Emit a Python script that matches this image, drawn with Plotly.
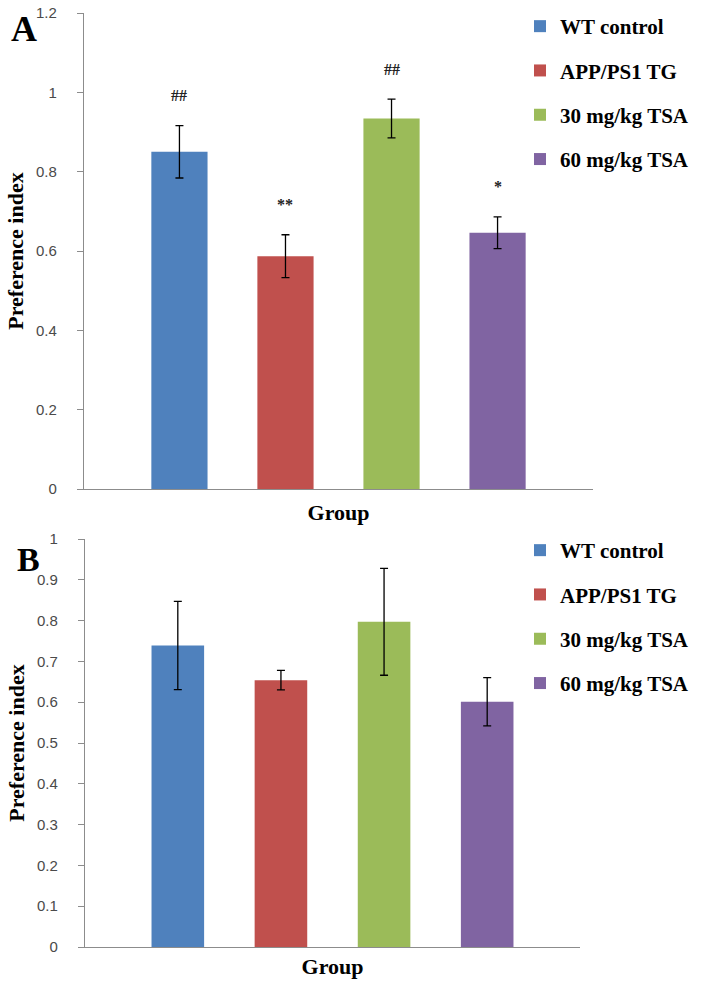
import plotly.graph_objects as go

groups = ["WT control", "APP/PS1 TG", "30 mg/kg TSA", "60 mg/kg TSA"]
colors = ["#4F81BD", "#C0504D", "#9BBB59", "#8064A2"]

a_mean = [0.850, 0.587, 0.934, 0.646]
a_err = [0.066, 0.054, 0.049, 0.040]
a_sig = ["##", "**", "##", "*"]

b_mean = [0.739, 0.654, 0.797, 0.601]
b_err = [0.108, 0.024, 0.131, 0.059]

a_ticks = [0, 0.2, 0.4, 0.6, 0.8, 1, 1.2]
a_ticklabels = ["0", "0.2", "0.4", "0.6", "0.8", "1", "1.2"]
b_ticks = [0, 0.1, 0.2, 0.3, 0.4, 0.5, 0.6, 0.7, 0.8, 0.9, 1]
b_ticklabels = ["0", "0.1", "0.2", "0.3", "0.4", "0.5", "0.6", "0.7", "0.8", "0.9", "1"]

W, H = 714, 984
SERIF = "Liberation Serif"
SANS = "Liberation Sans"
AXC = "#8c8c8c"
TICKC = "#4a4a4a"


def px(x):
    return x / W


def py(y):
    return 1 - y / H


fig = go.Figure()

for i, g in enumerate(groups):
    fig.add_trace(go.Bar(
        x=[i], y=[a_mean[i]], name=g, width=0.53,
        marker=dict(color=colors[i], line=dict(width=0)),
        error_y=dict(type="data", array=[a_err[i]], color="black", thickness=1.3, width=4),
        xaxis="x", yaxis="y", legend="legend", legendgroup="a" + str(i),
    ))
for i, g in enumerate(groups):
    fig.add_trace(go.Bar(
        x=[i], y=[b_mean[i]], name=g, width=0.51,
        marker=dict(color=colors[i], line=dict(width=0)),
        error_y=dict(type="data", array=[b_err[i]], color="black", thickness=1.3, width=4),
        xaxis="x2", yaxis="y2", legend="legend2", legendgroup="b" + str(i),
    ))

annotations = []
for i, s in enumerate(a_sig):
    annotations.append(dict(
        x=i, y=a_mean[i] + a_err[i], xref="x", yref="y", text="<b>" + s + "</b>",
        showarrow=False, yanchor="middle", yshift=30,
        font=dict(family=SERIF, size=16, color="#222222"),
    ))

annotations += [
    dict(x=px(24), y=py(29), xref="paper", yref="paper", text="<b>A</b>", showarrow=False,
         xanchor="center", yanchor="middle", font=dict(family=SERIF, size=36, color="black")),
    dict(x=px(28), y=py(559), xref="paper", yref="paper", text="<b>B</b>", showarrow=False,
         xanchor="center", yanchor="middle", font=dict(family=SERIF, size=34, color="black")),
]

axis_common = dict(showline=True, linecolor=AXC, linewidth=1.3, zeroline=False, showgrid=False)
title_font = dict(family=SERIF, size=22, color="black")
tick_font = dict(family=SANS, size=15, color=TICKC)

fig.update_layout(
    width=W, height=H, margin=dict(l=0, r=0, t=0, b=0, autoexpand=False),
    paper_bgcolor="white", plot_bgcolor="white",
    showlegend=True, barmode="overlay",
    xaxis=dict(domain=[px(84), px(593)], range=[-0.9, 3.9], showticklabels=False, ticks="",
               anchor="y", title=dict(text="<b>Group</b>", font=title_font, standoff=15),
               **axis_common),
    yaxis=dict(domain=[py(489), py(13)], range=[0, 1.2], tickvals=a_ticks, ticktext=a_ticklabels,
               ticks="outside", ticklen=6, tickcolor=AXC, tickwidth=1, anchor="x", ticklabelstandoff=17,
               tickfont=tick_font, ticklabeloverflow="allow",
               title=dict(text="<b>Preference index</b>", font=title_font, standoff=6),
               **axis_common),
    xaxis2=dict(domain=[px(85), px(580)], range=[-0.9, 3.9], showticklabels=False, ticks="",
                anchor="y2", title=dict(text="<b>Group</b>", font=title_font, standoff=11),
                **axis_common),
    yaxis2=dict(domain=[py(947), py(539)], range=[0, 1], tickvals=b_ticks, ticktext=b_ticklabels,
                ticks="outside", ticklen=6, tickcolor=AXC, tickwidth=1, anchor="x2", ticklabelstandoff=17,
                tickfont=tick_font, ticklabeloverflow="allow",
                title=dict(text="<b>Preference index</b>", font=title_font, standoff=6),
                **axis_common),
    legend=dict(x=px(520), y=py(6), xanchor="left", yanchor="top", tracegroupgap=14,
                font=dict(family=SERIF, size=21, color="black", weight="bold"),
                bgcolor="rgba(0,0,0,0)", itemwidth=30),
    legend2=dict(x=px(520), y=py(530), xanchor="left", yanchor="top", tracegroupgap=14,
                 font=dict(family=SERIF, size=21, color="black", weight="bold"),
                 bgcolor="rgba(0,0,0,0)", itemwidth=30),
    annotations=annotations,
)

fig.write_html("out.html", config={"displayModeBar": False},
               post_script="document.body.style.margin='0';")
